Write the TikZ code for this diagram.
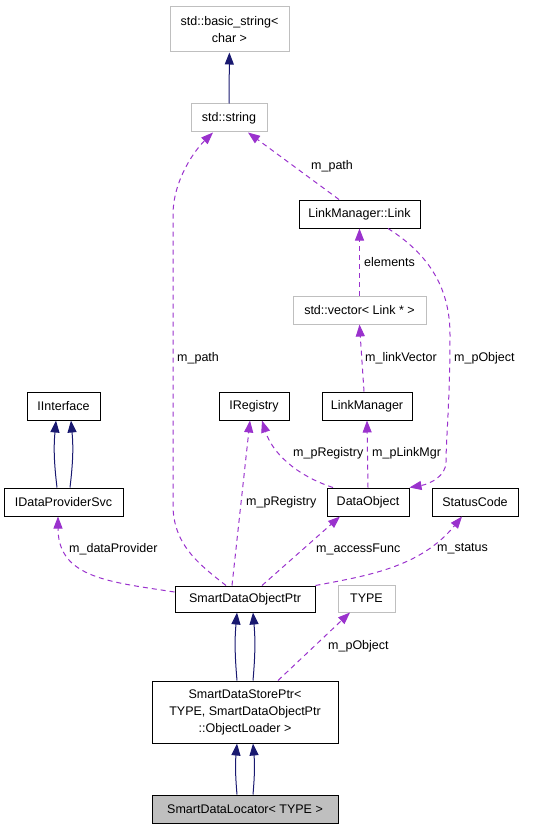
\documentclass[tikz,border=0pt]{standalone}
\usepackage{fontspec}
\setmainfont{Liberation Sans}
\usetikzlibrary{arrows.meta}
\definecolor{usecol}{HTML}{9A32CD}
\definecolor{inhcol}{HTML}{191970}
\definecolor{extgray}{HTML}{BFBFBF}
\tikzset{
  cls/.style={draw=black, line width=1pt, inner sep=0pt, align=center,
    font=\fontsize{12.5}{17}\selectfont},
  extcls/.style={cls, draw=extgray},
  usage/.style={draw=usecol, line width=1pt, dash pattern=on 5pt off 4pt,
    -{Triangle[length=12pt,width=9pt]}},
  inherit/.style={draw=inhcol, line width=1pt,
    -{Triangle[length=12pt,width=9pt]}},
  lbl/.style={inner sep=0pt, anchor=west, font=\fontsize{12.5}{15}\selectfont},
}
\begin{document}
\begin{tikzpicture}[x=1pt, y=-1pt]
        \useasboundingbox (0,0) rectangle (556,829);
        % Nodes
        \node (bstr) [extcls, minimum width=119pt, minimum height=45pt] at (229.5, 29.5) {std::basic\_string<\\char >};
        \node (str) [extcls, minimum width=76pt, minimum height=28pt] at (229, 118) {std::string};
        \node (link) [cls, minimum width=121pt, minimum height=28pt] at (359.5, 214) {LinkManager::Link};
        \node (vec) [extcls, minimum width=133pt, minimum height=28pt] at (359.5, 310) {std::vector< Link * >};
        \node (iint) [cls, minimum width=73pt, minimum height=28pt] at (63.5, 406) {IInterface};
        \node (ireg) [cls, minimum width=70pt, minimum height=28pt] at (254, 406) {IRegistry};
        \node (lmgr) [cls, minimum width=90pt, minimum height=28pt] at (367, 406) {LinkManager};
        \node (idp) [cls, minimum width=119pt, minimum height=28pt] at (63.5, 502) {IDataProviderSvc};
        \node (dobj) [cls, minimum width=82pt, minimum height=28pt] at (368, 502) {DataObject};
        \node (stc) [cls, minimum width=86pt, minimum height=28pt] at (475, 502) {StatusCode};
        \node (sdop) [cls, minimum width=140pt, minimum height=26pt] at (245, 599) {SmartDataObjectPtr};
        \node (type) [extcls, minimum width=57pt, minimum height=27pt] at (366.5, 598.5) {TYPE};
        \node (sdsp) [cls, minimum width=186pt, minimum height=62pt] at (245, 712) {SmartDataStorePtr<\\TYPE, SmartDataObjectPtr\\::ObjectLoader >};
        \node (sdl) [cls, fill=extgray, minimum width=186pt, minimum height=28pt] at (245, 809) {SmartDataLocator< TYPE >};

        % Edge labels
        \node (lpath1) [lbl] at (177, 358) {m\_path};
        \node (lpath2) [lbl] at (311, 166) {m\_path};
        \node (lelem) [lbl] at (364, 262) {elements};
        \node (llvec) [lbl] at (365, 358) {m\_linkVector};
        \node (lpobj1) [lbl] at (454, 358) {m\_pObject};
        \node (lreg1) [lbl] at (293, 453) {m\_pRegistry};
        \node (llmgr) [lbl] at (372, 453) {m\_pLinkMgr};
        \node (lreg2) [lbl] at (246, 502) {m\_pRegistry};
        \node (ldp) [lbl] at (69, 549) {m\_dataProvider};
        \node (lacc) [lbl] at (316, 549) {m\_accessFunc};
        \node (lstat) [lbl] at (437, 549) {m\_status};
        \node (lpobj2) [lbl] at (328, 646) {m\_pObject};

        % Edges
        \draw[inherit] (str) -- (bstr);
        \draw[usage] ([xshift=-19pt]sdop.north) .. controls (200, 565) and (173, 545) .. (173, 505) -- (173, 215) .. controls (173, 180) and (195, 150) .. ([xshift=-16pt]str.south);
        \draw[usage] ([xshift=-20.5pt]link.north) -- ([xshift=19pt]str.south);
        \draw[usage] (vec) -- (link);
        \draw[usage] ([xshift=-3pt]lmgr.north) -- (vec.south);
        \draw[usage] ([xshift=28.5pt]link.south) .. controls (435, 258) and (450, 295) .. (450, 335) .. controls (450, 400) and (446, 440) .. (446, 462) .. controls (446, 476) and (430, 484) .. (dobj.north east);
        \draw[inherit] ([xshift=-6.5pt]idp.north) to[bend left=6] ([xshift=-7.5pt]iint.south);
        \draw[inherit] ([xshift=6.5pt]idp.north) to[bend right=6] ([xshift=7.5pt]iint.south);
        \draw[usage] ([xshift=-35pt]dobj.north) .. controls (295, 475) and (272, 452) .. ([xshift=8pt]ireg.south);
        \draw[usage] (dobj.north) -- (lmgr.south);
        \draw[usage] ([xshift=-13pt]sdop.north) -- ([xshift=-4pt]ireg.south);
        \draw[usage] ([xshift=17pt]sdop.north) -- ([xshift=-28pt]dobj.south);
        \draw[usage] (sdop.north east) .. controls (365, 576) and (420, 568) .. ([xshift=-13pt]stc.south);
        \draw[usage] ([yshift=7pt]sdop.west) .. controls (110, 582) and (58, 578) .. ([xshift=-5.5pt]idp.south);
        \draw[inherit] ([xshift=-8pt]sdsp.north) to[bend left=5] ([xshift=-8pt]sdop.south);
        \draw[inherit] ([xshift=8pt]sdsp.north) to[bend right=5] ([xshift=8pt]sdop.south);
        \draw[usage] ([xshift=33pt]sdsp.north) -- ([xshift=-16.5pt]type.south);
        \draw[inherit] ([xshift=-8pt]sdl.north) to[bend left=5] ([xshift=-8pt]sdsp.south);
        \draw[inherit] ([xshift=8pt]sdl.north) to[bend right=5] ([xshift=8pt]sdsp.south);

    \end{tikzpicture}
\end{document}
